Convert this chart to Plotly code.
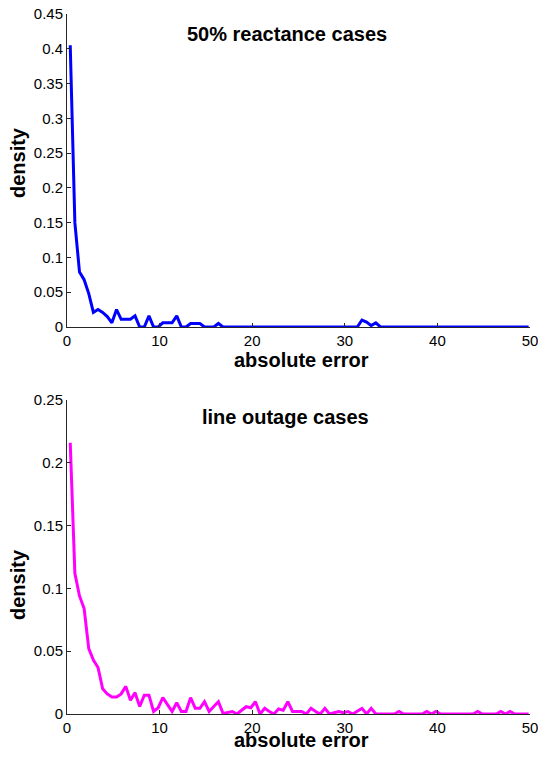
import numpy as np
import plotly.graph_objects as go
from plotly.subplots import make_subplots

# bin centres (absolute error)
abs_error = [round(0.35 + 0.5 * k, 2) for k in range(100)]

# density, 50% reactance cases
reactance_density = [
    0.405, 0.150, 0.079, 0.068, 0.048, 0.021, 0.025, 0.021, 0.015, 0.006,
    0.025, 0.011, 0.011, 0.011, 0.016, 0.0, 0.0, 0.016, 0.0, 0.0,
    0.006, 0.006, 0.006, 0.016, 0.0, 0.0, 0.005, 0.005, 0.005, 0.0,
    0.0, 0.0, 0.005, 0.0, 0.0, 0.0, 0.0, 0.0, 0.0, 0.0,
    0.0, 0.0, 0.0, 0.0, 0.0, 0.0, 0.0, 0.0, 0.0, 0.0,
    0.0, 0.0, 0.0, 0.0, 0.0, 0.0, 0.0, 0.0, 0.0, 0.0,
    0.0, 0.0, 0.0, 0.010, 0.007, 0.002, 0.006, 0.0, 0.0, 0.0,
    0.0, 0.0, 0.0, 0.0, 0.0, 0.0, 0.0, 0.0, 0.0, 0.0,
    0.0, 0.0, 0.0, 0.0, 0.0, 0.0, 0.0, 0.0, 0.0, 0.0,
    0.0, 0.0, 0.0, 0.0, 0.0, 0.0, 0.0, 0.0, 0.0, 0.0,
]

# density, line outage cases
outage_density = [
    0.216, 0.112, 0.094, 0.084, 0.052, 0.043, 0.037, 0.020, 0.016, 0.0135,
    0.0135, 0.016, 0.022, 0.011, 0.017, 0.006, 0.015, 0.015, 0.002, 0.005,
    0.013, 0.008, 0.002, 0.009, 0.002, 0.002, 0.013, 0.0045, 0.0045, 0.0098,
    0.002, 0.006, 0.0098, 0.0005, 0.0015, 0.002, 0.0, 0.003, 0.0058, 0.005,
    0.0098, 0.0, 0.0045, 0.002, 0.0, 0.004, 0.003, 0.0098, 0.002, 0.002,
    0.002, 0.0, 0.0045, 0.002, 0.0, 0.0045, 0.0, 0.001, 0.002, 0.001,
    0.002, 0.0, 0.002, 0.0045, 0.0, 0.0045, 0.0, 0.0, 0.0, 0.0,
    0.0, 0.002, 0.0, 0.0, 0.0, 0.0, 0.0, 0.002, 0.0, 0.002,
    0.0, 0.0, 0.0, 0.0, 0.0, 0.0, 0.0, 0.0, 0.002, 0.0,
    0.0, 0.0, 0.0, 0.002, 0.0, 0.002, 0.0, 0.0, 0.0, 0.0,
]

x_ticks = [0, 10, 20, 30, 40, 50]
top_y_ticks = [0, 0.05, 0.1, 0.15, 0.2, 0.25, 0.3, 0.35, 0.4, 0.45]
top_y_labels = ["0", "0.05", "0.1", "0.15", "0.2", "0.25", "0.3", "0.35", "0.4", "0.45"]
bot_y_ticks = [0, 0.05, 0.1, 0.15, 0.2, 0.25]
bot_y_labels = ["0", "0.05", "0.1", "0.15", "0.2", "0.25"]

titles = ["50% reactance cases", "line outage cases"]
x_label = "absolute error"
y_label = "density"

FONT = "Liberation Sans, Arial, sans-serif"

fig = make_subplots(rows=2, cols=1, vertical_spacing=0.1)
fig.add_trace(go.Scatter(x=abs_error, y=reactance_density, mode="lines",
                         line=dict(color="#0000FF", width=3)), row=1, col=1)
fig.add_trace(go.Scatter(x=abs_error, y=outage_density, mode="lines",
                         line=dict(color="#FF00FF", width=3)), row=2, col=1)

axis_common = dict(showline=True, linecolor="#262626", linewidth=1, ticks="inside",
                   ticklen=4, tickcolor="#262626", showgrid=False, zeroline=False,
                   automargin=False, ticklabeloverflow="allow",
                   tickfont=dict(family=FONT, size=15, color="black"))

# the page body adds an 8px margin all round; the figure is sized to fit inside it
fig.update_layout(
    width=530, height=742,
    margin=dict(l=59, r=8, t=6, b=36),
    plot_bgcolor="white", paper_bgcolor="white",
    showlegend=False,
    font=dict(family=FONT, color="black"),
)

fig.update_xaxes(range=[0, 50], tickvals=x_ticks, **axis_common)

fig.update_layout(
    yaxis=dict(domain=[0.5529, 1.0], range=[0, 0.45], tickvals=top_y_ticks,
               ticktext=top_y_labels, **axis_common),
    yaxis2=dict(domain=[0.0, 0.4486], range=[0, 0.25], tickvals=bot_y_ticks,
                ticktext=bot_y_labels, **axis_common),
)

# subplot titles (inside axes)
fig.add_annotation(x=23.8, y=0.4212, xref="x", yref="y", text="<b>" + titles[0] + "</b>",
                   showarrow=False, font=dict(family=FONT, size=20, color="black"))
fig.add_annotation(x=23.6, y=0.2365, xref="x2", yref="y2", text="<b>" + titles[1] + "</b>",
                   showarrow=False, font=dict(family=FONT, size=20, color="black"))

# axis labels
for ypos in (0.5057, -0.0371):
    fig.add_annotation(x=0.5075, y=ypos, xref="paper", yref="paper",
                       text="<b>" + x_label + "</b>", showarrow=False,
                       xanchor="center", yanchor="middle",
                       font=dict(family=FONT, size=20, color="black"))
for ypos in (0.7871, 0.1843):
    fig.add_annotation(x=-0.1058, y=ypos, xref="paper", yref="paper",
                       text="<b>" + y_label + "</b>", showarrow=False, textangle=-90,
                       xanchor="center", yanchor="middle",
                       font=dict(family=FONT, size=20, color="black"))

fig.write_html("out.html")
